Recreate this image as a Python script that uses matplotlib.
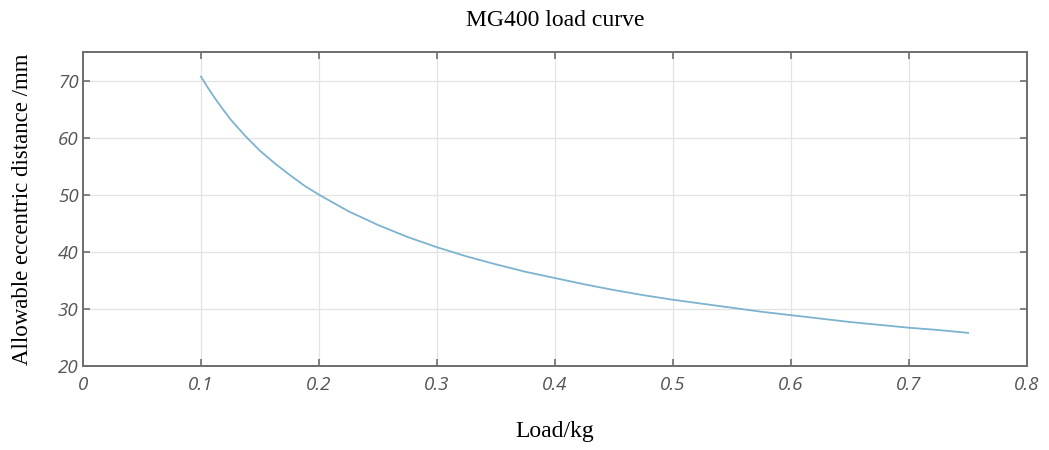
import matplotlib
matplotlib.use("Agg")
import matplotlib.pyplot as plt

# load (kg) vs allowable eccentric distance (mm)
load = [0.1, 0.1063, 0.1125, 0.1188, 0.125, 0.1375, 0.15, 0.1625, 0.175,
        0.1875, 0.2, 0.225, 0.25, 0.275, 0.3, 0.325, 0.35, 0.375, 0.4,
        0.425, 0.45, 0.475, 0.5, 0.525, 0.55, 0.575, 0.6, 0.625, 0.65,
        0.675, 0.7, 0.725, 0.75]
distance = [70.7, 68.6, 66.7, 64.9, 63.2, 60.3, 57.7, 55.5, 53.5,
            51.6, 50.0, 47.1, 44.7, 42.6, 40.8, 39.2, 37.8, 36.5, 35.4,
            34.3, 33.3, 32.4, 31.6, 30.9, 30.2, 29.5, 28.9, 28.3, 27.7,
            27.2, 26.7, 26.3, 25.8]

xticks = [0, 0.1, 0.2, 0.3, 0.4, 0.5, 0.6, 0.7, 0.8]
yticks = [20, 30, 40, 50, 60, 70]

fig = plt.figure(figsize=(10.49, 4.5), dpi=100)
ax = fig.add_axes([0.0791, 0.1867, 0.9, 0.6977])

ax.plot(load, distance, color="#7db3cf", linewidth=1.3)

ax.set_xlim(0, 0.8)
ax.set_ylim(20, 75)
ax.set_xticks(xticks)
ax.set_yticks(yticks)
ax.set_xticklabels(["0", "0.1", "0.2", "0.3", "0.4", "0.5", "0.6", "0.7", "0.8"])
ax.grid(True, color="#e3e3e3", linewidth=0.9)
ax.set_axisbelow(True)

for sp in ax.spines.values():
    sp.set_color("#6e6e6e")
    sp.set_linewidth(1.4)
ax.tick_params(direction="in", top=True, right=True, length=5, width=1.2,
               color="#6e6e6e", labelcolor="#555555", labelsize=13.5)
ax.tick_params(axis="x", pad=7)
ax.tick_params(axis="y", pad=3)
for lab in ax.get_xticklabels() + ax.get_yticklabels():
    lab.set_fontstyle("italic")
    lab.set_family("Open Sans")

ax.set_title("MG400 load curve", family="Liberation Serif", fontsize=17, pad=19)
ax.set_xlabel("Load/kg", family="Liberation Serif", fontsize=17, labelpad=20)
ax.set_ylabel("Allowable eccentric distance /mm", family="Liberation Serif",
              fontsize=16.5, labelpad=18)

fig.savefig("out.png", dpi=100)
